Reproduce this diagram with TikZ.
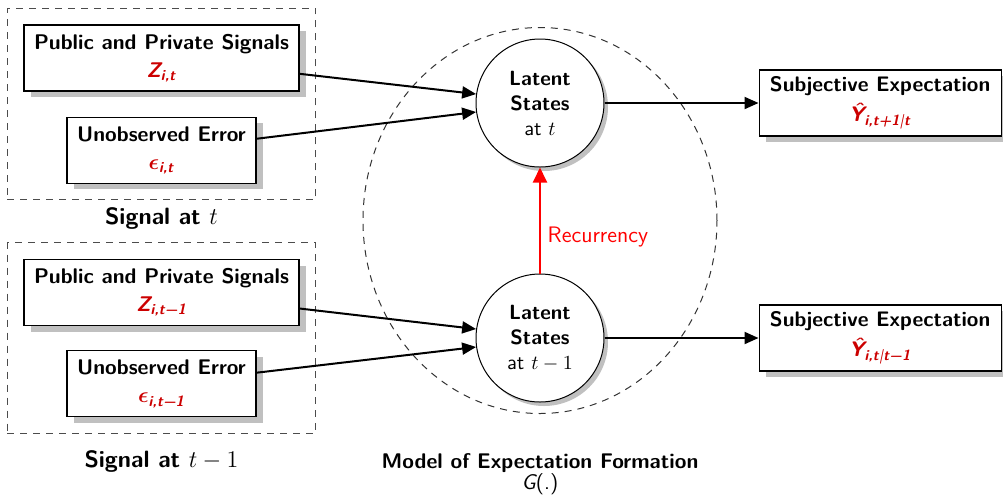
\documentclass[tikz,border=0pt]{standalone}
\usepackage{fontspec}
\usepackage{amsmath}
\usetikzlibrary{arrows.meta, positioning, fit, calc, shapes.geometric, shadows}
\definecolor{sigred}{RGB}{204,0,0}
\definecolor{recred}{RGB}{255,0,0}
\definecolor{shadegrey}{RGB}{192,192,192}
% red signal symbol with its subscript
\newcommand{\rv}[2]{{\color{sigred}\bfseries\itshape #1\textsubscript{#2}}}
\tikzset{
  sigbox/.style={
    draw=black, line width=.65pt, fill=white, align=center,
    font=\sffamily\bfseries\fontsize{10.6}{14}\selectfont,
    minimum height=33pt, inner sep=2pt,
    drop shadow={shadow xshift=3.5pt, shadow yshift=-3pt,
                 fill=shadegrey, opacity=1}},
  expbox/.style={sigbox, font=\sffamily\bfseries\fontsize{10.5}{15}\selectfont,
    minimum width=121pt},
  latent/.style={
    circle, draw=black, line width=.5pt, fill=white, minimum size=64pt,
    inner sep=0pt, align=center, font=\sffamily\fontsize{10.3}{12.5}\selectfont,
    drop shadow={shadow xshift=2pt, shadow yshift=-2pt,
                 fill=shadegrey, opacity=1}},
  sigroup/.style={draw=black!70, dash pattern=on 3.5pt off 3pt,
    line width=.5pt, inner sep=8pt},
  siglab/.style={font=\sffamily\bfseries\fontsize{11.8}{14}\selectfont,
    inner sep=0pt},
  modlab/.style={font=\sffamily\fontsize{10.6}{10.5}\selectfont, align=center,
    inner sep=0pt},
  flow/.style={-{Triangle[length=7pt, width=6pt]}, draw=black, line width=1pt},
  recur/.style={-{Triangle[length=7.5pt, width=7pt]}, draw=recred,
    line width=1pt},
}
\begin{document}
\begin{tikzpicture}
  \useasboundingbox (0,0) rectangle (501.5pt,-247.5pt);
  % signals at t
  \node[sigbox, minimum width=137.5pt] (zt) at (80.75pt,-29pt)
       {Public and Private Signals\\\rv{Z}{i,t}};
  \node[sigbox, minimum width=94.5pt, below=12.5pt of zt] (et)
       {Unobserved Error\\\rv{$\boldsymbol{\epsilon}$}{i,t}};
  \node[sigroup, fit=(zt)(et)] (sigt) {};
  \node[siglab, below=3.5pt of sigt] (sigtlab) {Signal at $t$};
  % signals at t-1
  \node[sigbox, minimum width=137.5pt] (zb) at (80.75pt,-146.25pt)
       {Public and Private Signals\\\rv{Z}{i,t−1}};
  \node[sigbox, minimum width=94.5pt, below=12pt of zb] (eb)
       {Unobserved Error\\\rv{$\boldsymbol{\epsilon}$}{i,t−1}};
  \node[sigroup, fit=(zb)(eb)] (sigb) {};
  \node[siglab, below=8pt of sigb] (sigblab) {Signal at $t-1$};
  % latent states
  \node[latent] (lt) at (270pt,-51.5pt) {\textbf{Latent}\\\textbf{States}\\at $t$};
  \node[latent, below=53pt of lt] (lb) {\textbf{Latent}\\\textbf{States}\\at $t-1$};
  \node[ellipse, draw=black!80, dash pattern=on 3.5pt off 3pt, line width=.5pt,
        minimum width=177pt, minimum height=193pt]
        (model) at ($(lt)!.5!(lb)$) {};
  \node[modlab, below=19.5pt of model] (modlab)
       {\textbf{Model of Expectation Formation}\\{\itshape G}(.)};
  % expectations
  \node[expbox, right=77pt of lt] (st)
       {Subjective Expectation\\\rv{\^Y}{i,t+1|t}};
  \node[expbox, right=77pt of lb] (sb)
       {Subjective Expectation\\\rv{\^Y}{i,t|t−1}};

  \draw[flow] (zt) -- (lt.172);
  \draw[flow] (et) -- (lt.188);
  \draw[flow] (zb) -- (lb.172);
  \draw[flow] (eb) -- (lb.188);
  \draw[flow] (lt) -- (st);
  \draw[flow] (lb) -- (sb);
  \draw[recur] (lb.north) -- (lt.south)
        node[pos=.34, right, font=\sffamily\fontsize{11.2}{13}\selectfont,
             text=recred] {Recurrency};
\end{tikzpicture}
\end{document}
